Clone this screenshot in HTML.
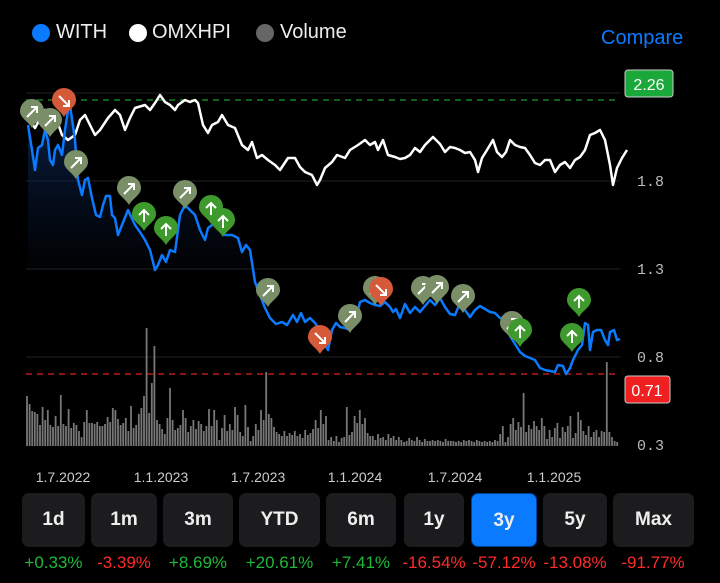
<!DOCTYPE html>
<html><head><meta charset="utf-8"><style>
body{margin:0;background:#000;width:720px;height:583px;overflow:hidden;font-family:"Liberation Sans",sans-serif;position:relative}
.lg{position:absolute;top:21px;font-size:20px;color:#eee;font-family:"Liberation Sans Narrow","Liberation Sans",sans-serif}
.dot{position:absolute;top:24px;width:18px;height:18px;border-radius:50%}
.btn{position:absolute;top:493px;height:54px;background:#1c1c1e;border-radius:7px;color:#eee;font-weight:bold;font-size:19px;text-align:center;line-height:54px;font-family:"Liberation Sans Narrow","Liberation Sans",sans-serif}
.pc{position:absolute;top:553px;font-size:17px;text-align:center}
.g{color:#1fb83a}.r{color:#ff2a2a}
.dl{position:absolute;top:469px;font-size:14px;color:#ccc;width:100px;text-align:center;margin-left:-50px}
</style></head><body>
<div class="dot" style="left:32px;background:#0a7bff"></div><div class="lg" style="left:56px">WITH</div>
<div class="dot" style="left:129px;background:#fff"></div><div class="lg" style="left:152px">OMXHPI</div>
<div class="dot" style="left:256px;background:#666"></div><div class="lg" style="left:280px">Volume</div>
<div class="lg" style="left:601px;top:27px;color:#0a7bff">Compare</div>
<svg width="720" height="583" style="position:absolute;left:0;top:0">
<defs><linearGradient id="ga" x1="0" y1="0" x2="0" y2="1"><stop offset="0" stop-color="#0a2a5a" stop-opacity="0.8"/><stop offset="1" stop-color="#0a1a3a" stop-opacity="0"/></linearGradient></defs>
<g stroke="#222" stroke-width="1"><line x1="26" y1="93" x2="620" y2="93"/><line x1="26" y1="181" x2="620" y2="181"/><line x1="26" y1="269" x2="620" y2="269"/><line x1="26" y1="357" x2="620" y2="357"/></g>
<line x1="26" y1="100" x2="620" y2="100" stroke="#1a9a2a" stroke-dasharray="6,5" stroke-width="1.2"/>
<line x1="26" y1="374" x2="620" y2="374" stroke="#d22" stroke-dasharray="6,5" stroke-width="1.2"/>
<path stroke="#777" stroke-width="1.8" fill="none" d="M27 446V396M29.6 446V404M32.2 446V411M34.8 446V412M37.4 446V414M40 446V425M42.6 446V407M45.2 446V420M47.8 446V410M50.4 446V425M53 446V427M55.6 446V416M58.2 446V426M60.8 446V395M63.4 446V424M66 446V426M68.6 446V409M71.2 446V428M73.8 446V423M76.4 446V425M79 446V431M81.6 446V437M84.2 446V422M86.8 446V410M89.4 446V423M92 446V423M94.6 446V424M97.2 446V422M99.8 446V426M102.4 446V426M105 446V424M107.6 446V417M110.2 446V422M112.8 446V408M115.4 446V410M118 446V419M120.6 446V425M123.2 446V423M125.8 446V418M128.4 446V431M131 446V406M133.6 446V428M136.2 446V425M138.8 446V414M141.4 446V408M144 446V396M146.6 446V328M149.2 446V413M151.8 446V383M154.4 446V346M157 446V420M159.6 446V424M162.2 446V429M164.8 446V434M167.4 446V418M170 446V388M172.6 446V420M175.2 446V430M177.8 446V428M180.4 446V425M183 446V410M185.6 446V418M188.2 446V432M190.8 446V426M193.4 446V420M196 446V429M198.6 446V421M201.2 446V424M203.8 446V431M206.4 446V426M209 446V409M211.6 446V426M214.2 446V410M216.8 446V420M219.4 446V440M222 446V428M224.6 446V415M227.2 446V431M229.8 446V424M232.4 446V430M235 446V407M237.6 446V415M240.2 446V432M242.8 446V436M245.4 446V405M248 446V427M250.6 446V441M253.2 446V436M255.8 446V424M258.4 446V430M261 446V410M263.6 446V420M266.2 446V372M268.8 446V414M271.4 446V418M274 446V427M276.6 446V432M279.2 446V434M281.8 446V436M284.4 446V431M287 446V436M289.6 446V433M292.2 446V435M294.8 446V431M297.4 446V436M300 446V434M302.6 446V438M305.2 446V430M307.8 446V435M310.4 446V433M313 446V429M315.6 446V420M318.2 446V428M320.8 446V410M323.4 446V424M326 446V416M328.6 446V440M331.2 446V437M333.8 446V441M336.4 446V436M339 446V442M341.6 446V438M344.2 446V437M346.8 446V407M349.4 446V435M352 446V432M354.6 446V416M357.2 446V423M359.8 446V410M362.4 446V424M365 446V418M367.6 446V433M370.2 446V436M372.8 446V436M375.4 446V440M378 446V434M380.6 446V438M383.2 446V437M385.8 446V440M388.4 446V434M391 446V438M393.6 446V436M396.2 446V440M398.8 446V437M401.4 446V440M404 446V442M406.6 446V441M409.2 446V438M411.8 446V440M414.4 446V441M417 446V437M419.6 446V440M422.2 446V442M424.8 446V439M427.4 446V441M430 446V441M432.6 446V440M435.2 446V441M437.8 446V440M440.4 446V441M443 446V442M445.6 446V439M448.2 446V441M450.8 446V441M453.4 446V441M456 446V442M458.6 446V441M461.2 446V442M463.8 446V440M466.4 446V441M469 446V440M471.6 446V441M474.2 446V442M476.8 446V440M479.4 446V441M482 446V442M484.6 446V441M487.2 446V442M489.8 446V441M492.4 446V442M495 446V440M497.6 446V441M500.2 446V434M502.8 446V426M505.4 446V442M508 446V437M510.6 446V424M513.2 446V418M515.8 446V430M518.4 446V422M521 446V427M523.6 446V393M526.2 446V432M528.8 446V425M531.4 446V429M534 446V421M536.6 446V426M539.2 446V430M541.8 446V418M544.4 446V426M547 446V439M549.6 446V430M552.2 446V437M554.8 446V428M557.4 446V423M560 446V438M562.6 446V427M565.2 446V432M567.8 446V426M570.4 446V416M573 446V438M575.6 446V433M578.2 446V412M580.8 446V420M583.4 446V431M586 446V435M588.6 446V426M591.2 446V437M593.8 446V432M596.4 446V430M599 446V437M601.6 446V431M604.2 446V432M606.8 446V362M609.4 446V432M612 446V437M614.6 446V441M617.2 446V442"/>
<polygon fill="url(#ga)" points="28,125 32,150 35,170 38,148 42,145 45,130 48,140 50,160 53,165 55,150 58,145 62,155 65,130 68,110 70,105 75,140 78,180 82,195 85,180 88,178 92,198 96,215 100,217 103,205 106,196 110,196 112,215 115,218 118,235 122,225 128,210 135,225 140,232 145,240 150,250 155,270 158,265 162,255 166,262 170,250 175,252 180,215 185,205 190,210 195,215 200,230 205,240 208,228 212,225 218,220 225,235 232,235 238,238 242,252 246,245 250,250 255,282 255,270 28,270"/>
<polyline fill="none" stroke="#fff" stroke-width="2.5" stroke-linejoin="round" points="28,118 35,128 45,110 55,115 62,135 68,140 75,135 80,120 85,115 90,125 95,135 100,130 108,118 115,110 120,115 125,130 130,118 135,108 145,105 150,110 155,103 160,95 165,102 170,105 175,110 178,105 185,100 190,102 195,100 198,103 203,125 208,133 212,125 218,122 222,115 228,125 235,128 242,145 248,150 252,142 257,158 262,155 268,160 275,165 280,170 288,158 295,158 300,167 305,172 312,175 317,185 320,180 325,168 332,162 337,155 345,158 350,150 358,145 365,140 370,145 375,142 378,150 383,140 388,155 395,157 400,159 405,158 410,155 415,148 420,152 425,145 430,140 433,137 440,144 445,152 450,147 455,148 460,150 465,153 470,152 475,160 478,172 482,158 487,150 490,145 493,140 497,152 502,157 506,152 510,140 515,145 520,147 525,148 530,155 535,163 540,165 545,160 550,160 555,172 560,165 565,162 570,168 575,160 580,157 585,150 590,135 595,133 600,130 605,140 610,165 613,185 617,168 622,158 627,150"/>
<polyline fill="none" stroke="#0a7bff" stroke-width="2.5" stroke-linejoin="round" points="28,125 32,150 35,170 38,148 42,145 45,130 48,140 50,160 53,165 55,150 58,145 62,155 65,130 68,110 70,105 75,140 78,180 82,195 85,180 88,178 92,198 96,215 100,217 103,205 106,196 110,196 112,215 115,218 118,235 122,225 128,210 135,225 140,232 145,240 150,250 155,270 158,265 162,255 166,262 170,250 175,252 180,215 185,205 190,210 195,215 200,230 205,240 208,228 212,225 218,220 225,235 232,235 238,238 242,252 246,245 250,250 255,282 260,295 265,308 270,318 276,324 282,322 287,325 293,315 297,322 301,313 305,322 310,318 315,323 320,330 325,345 328,350 332,330 336,323 340,327 345,328 350,330 355,322 360,302 365,300 370,303 375,305 380,306 385,302 390,307 393,312 396,309 400,318 405,304 410,313 415,307 420,312 425,306 430,300 435,305 440,298 445,307 450,314 455,315 460,303 465,310 470,317 475,310 480,306 485,309 490,312 495,313 500,318 505,320 510,336 520,352 525,356 535,360 540,368 545,370 550,371 555,372 558,365 563,366 566,374 570,368 573,360 578,350 582,345 585,323 588,325 590,350 593,332 597,330 601,330 605,340 608,345 610,332 614,330 617,340 620,339"/>
<defs>
<path id="pb" d="M0,15 C-4,8 -12,5 -12,-2 A12,12 0 1 1 12,-2 C12,5 4,8 0,15Z"/>
<g id="pg"><use href="#pb" fill="#7a8f68"/><path d="M-5,4 L5,-6 M-1,-6 L5,-6 L5,0" stroke="#fff" stroke-width="2" fill="none"/></g>
<g id="pd"><use href="#pb" fill="#d45a3a"/><path d="M-5,-6 L5,4 M5,-2 L5,4 L-1,4" stroke="#fff" stroke-width="2" fill="none"/></g>
<g id="pu"><use href="#pb" fill="#3f9a2e"/><path d="M0,6 L0,-6 M-5,-1 L0,-6 L5,-1" stroke="#fff" stroke-width="2" fill="none"/></g>
</defs>
<use href="#pg" x="32" y="113"/><use href="#pg" x="50" y="122"/><use href="#pd" x="64" y="102"/><use href="#pg" x="76" y="164"/><use href="#pg" x="129" y="190"/><use href="#pu" x="144" y="216"/><use href="#pu" x="166" y="230"/><use href="#pg" x="185" y="194"/><use href="#pu" x="211" y="209"/><use href="#pu" x="223" y="222"/><use href="#pg" x="268" y="292"/><use href="#pd" x="320" y="339"/><use href="#pg" x="350" y="318"/><use href="#pg" x="375" y="290"/><use href="#pd" x="381" y="291"/><use href="#pg" x="423" y="290"/><use href="#pg" x="437" y="289"/><use href="#pg" x="463" y="298"/><use href="#pg" x="512" y="325"/><use href="#pu" x="520" y="332"/><use href="#pu" x="579" y="302"/><use href="#pu" x="572" y="337"/>
<g font-family="Liberation Mono,monospace" font-size="15" fill="#bbb"><text x="637" y="186">1.8</text><text x="637" y="274">1.3</text><text x="637" y="362">0.8</text><text x="637" y="450">0.3</text></g>
<rect x="625" y="70" width="48" height="27" rx="3" fill="#1aa83a" stroke="#ccc" stroke-width="1"/><text x="649" y="90" text-anchor="middle" fill="#fff" font-size="16">2.26</text>
<rect x="625" y="376" width="45" height="27" rx="3" fill="#f02020" stroke="#ccc" stroke-width="1"/><text x="647" y="396" text-anchor="middle" fill="#fff" font-size="16">0.71</text>
</svg>
<div class="dl" style="left:63px">1.7.2022</div><div class="dl" style="left:161px">1.1.2023</div><div class="dl" style="left:258px">1.7.2023</div><div class="dl" style="left:355px">1.1.2024</div><div class="dl" style="left:455px">1.7.2024</div><div class="dl" style="left:554px">1.1.2025</div>
<div class="btn" style="left:22px;width:63px">1d</div><div class="pc g" style="left:12px;width:83px">+0.33%</div>
<div class="btn" style="left:91px;width:66px">1m</div><div class="pc r" style="left:84px;width:80px">-3.39%</div>
<div class="btn" style="left:163px;width:70px">3m</div><div class="pc g" style="left:158px;width:80px">+8.69%</div>
<div class="btn" style="left:239px;width:81px">YTD</div><div class="pc g" style="left:234px;width:91px">+20.61%</div>
<div class="btn" style="left:326px;width:70px">6m</div><div class="pc g" style="left:321px;width:80px">+7.41%</div>
<div class="btn" style="left:404px;width:60px">1y</div><div class="pc r" style="left:389px;width:90px">-16.54%</div>
<div class="btn" style="left:471px;width:66px;background:#0a7bff;border:1px solid #0040a0;box-sizing:border-box">3y</div><div class="pc r" style="left:459px;width:90px">-57.12%</div>
<div class="btn" style="left:543px;width:64px">5y</div><div class="pc r" style="left:530px;width:90px">-13.08%</div>
<div class="btn" style="left:613px;width:81px">Max</div><div class="pc r" style="left:608px;width:90px">-91.77%</div>
</body></html>
